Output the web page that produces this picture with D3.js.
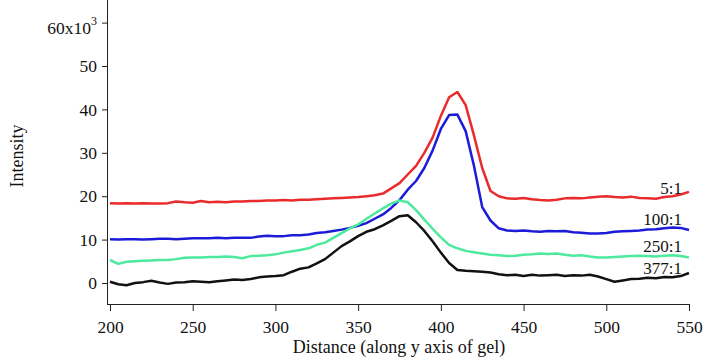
<!DOCTYPE html>
<html>
<head>
<meta charset="utf-8">
<script src="https://cdn.jsdelivr.net/npm/d3@7"></script>
<style>
 body { margin: 0; background: #fff; }
 svg, svg text { font-family: "Liberation Serif", "Times New Roman", serif; }
</style>
</head>
<body>
<div id="d3-container"></div>
<script>
/**
 * CONSTANTS AND GLOBALS
 * */
const width = 704,
  height = 362;

// distance along the gel, every 5 units
const distance = d3.range(200, 551, 5);

// intensity (x10^3) for each ratio
const ratio5 = [
  18.4, 18.3, 18.4, 18.3, 18.4, 18.3, 18.3, 18.4, 18.8, 18.6,
  18.5, 18.9, 18.6, 18.7, 18.6, 18.8, 18.8, 18.9, 18.9, 19.0,
  19.0, 19.1, 19.0, 19.2, 19.2, 19.3, 19.4, 19.5, 19.6, 19.7,
  19.8, 20.0, 20.2, 20.6, 21.8, 23.0, 25.0, 27.0, 30.0, 33.5,
  38.5, 42.8, 44.0, 41.0, 34.0, 26.5, 21.2, 20.0, 19.5, 19.4,
  19.6, 19.3, 19.1, 19.0, 19.2, 19.5, 19.6, 19.5, 19.7, 19.9,
  20.0, 19.8, 19.7, 19.9, 19.6, 19.5, 19.4, 19.8, 20.0, 20.4,
  21.0
];
const ratio100 = [
  10.1, 10.0, 10.1, 10.1, 10.0, 10.1, 10.2, 10.2, 10.1, 10.2,
  10.3, 10.3, 10.3, 10.4, 10.3, 10.4, 10.4, 10.4, 10.7, 10.9,
  10.8, 10.8, 11.0, 11.0, 11.2, 11.5, 11.7, 12.0, 12.3, 12.7,
  13.2, 13.8, 14.8, 15.8, 17.3, 19.1, 21.5, 23.5, 26.5, 30.5,
  35.5, 38.7, 38.8, 35.0, 27.0, 17.5, 14.4, 12.6, 12.1, 12.0,
  12.1, 11.9, 11.8, 12.0, 11.9, 12.0, 11.7, 11.6, 11.4, 11.4,
  11.5, 11.8, 11.9, 12.0, 12.1, 12.3, 12.4, 12.6, 12.8, 12.7,
  12.2
];
const ratio250 = [
  5.3, 4.4, 4.9, 5.0, 5.1, 5.2, 5.3, 5.3, 5.5, 5.8,
  5.9, 5.9, 6.0, 6.0, 6.1, 6.0, 5.7, 6.2, 6.3, 6.4,
  6.6, 7.0, 7.3, 7.6, 8.0, 8.8, 9.3, 10.4, 11.5, 12.6,
  13.5, 14.8, 16.0, 17.2, 18.3, 19.0, 18.6, 16.8, 14.6, 12.5,
  10.5, 8.8, 8.0, 7.4, 7.1, 6.8, 6.5, 6.4, 6.2, 6.3,
  6.5, 6.6, 6.8, 6.7, 6.8, 6.5, 6.3, 6.4, 6.1, 5.9,
  5.9, 6.0, 6.1, 6.2, 6.3, 6.2, 6.1, 6.3, 6.4, 6.2,
  5.9
];
const ratio377 = [
  0.3, -0.3, -0.5, 0.0, 0.2, 0.5, 0.1, -0.2, 0.1, 0.2,
  0.4, 0.3, 0.2, 0.4, 0.6, 0.8, 0.7, 0.9, 1.3, 1.5,
  1.6, 1.8, 2.6, 3.3, 3.6, 4.5, 5.5, 7.0, 8.5, 9.6,
  10.8, 11.8, 12.4, 13.3, 14.3, 15.4, 15.6, 14.0, 12.0, 9.6,
  7.0, 4.6, 3.0, 2.8, 2.7, 2.6, 2.4, 2.0, 1.8, 1.9,
  1.6, 1.9, 1.7, 1.8, 1.9, 1.6, 1.8, 1.7, 1.9, 1.5,
  0.9, 0.3, 0.6, 0.9, 1.0, 1.2, 1.1, 1.4, 1.3, 1.6,
  2.3
];

const seriesNames = ["5:1", "100:1", "250:1", "377:1"];
const seriesColors = ["#ea2b2b", "#1c1cd8", "#4de99c", "#111111"];
const xTicks = [200, 250, 300, 350, 400, 450, 500, 550];
const yTicks = [0, 10, 20, 30, 40, 50, 60];

const series = [ratio5, ratio100, ratio250, ratio377].map((vals, i) => ({
  name: seriesNames[i],
  color: seriesColors[i],
  values: vals.map((v, j) => ({ x: distance[j], y: v }))
}));

/**
 * SCALES
 * */
const xScale = d3.scaleLinear().domain([200, 550]).range([110, 689]);
const yScale = d3.scaleLinear().domain([0, 60]).range([283, 22.6]);

const svg = d3.select("#d3-container")
  .append("svg")
  .attr("width", width)
  .attr("height", height);

// x axis
const xAxis = svg.append("g")
  .attr("transform", "translate(0,304)")
  .call(d3.axisBottom(xScale).tickValues(xTicks).tickSize(7).tickPadding(10).tickSizeOuter(0))
  .attr("font-family", "Liberation Serif")
  .attr("font-size", 17.5);
xAxis.select(".domain").attr("d", "M107,0.5H689");
xAxis.selectAll("text").attr("fill", "#111");

// y axis
const yAxis = svg.append("g")
  .attr("transform", "translate(107,0)")
  .call(d3.axisLeft(yScale).tickValues(yTicks).tickSize(5).tickPadding(5).tickSizeOuter(0))
  .attr("font-family", "Liberation Serif")
  .attr("font-size", 17.5);
yAxis.select(".domain").attr("d", "M0.5,0V304.5");
yAxis.selectAll("text").attr("fill", "#111");

// top tick gets the x10^3 multiplier, a bit lower than the tick like the original
yAxis.selectAll(".tick")
  .filter(d => d === 60)
  .select("text")
  .text(null)
  .attr("x", -10)
  .attr("dy", null)
  .call(t => {
    t.append("tspan").attr("y", 10.4).text("60x10");
    t.append("tspan").attr("font-size", 12).attr("dy", -9).text("3");
  });

svg.selectAll(".domain, .tick line").attr("stroke", "#222");

// axis titles
svg.append("text")
  .attr("x", 399)
  .attr("y", 353)
  .attr("text-anchor", "middle")
  .attr("font-size", 18)
  .attr("fill", "#111")
  .text("Distance (along y axis of gel)");

svg.append("text")
  .attr("transform", "translate(23,156) rotate(-90)")
  .attr("text-anchor", "middle")
  .attr("font-size", 18)
  .attr("fill", "#111")
  .text("Intensity");

// lines
const line = d3.line()
  .x(d => xScale(d.x))
  .y(d => yScale(d.y));

svg.selectAll("path.series")
  .data(series)
  .join("path")
  .attr("class", "series")
  .attr("fill", "none")
  .attr("stroke", d => d.color)
  .attr("stroke-width", 2.5)
  .attr("stroke-linejoin", "round")
  .attr("d", d => line(d.values));

// ratio labels sit just above each line near the right end
svg.selectAll("text.label")
  .data(series)
  .join("text")
  .attr("class", "label")
  .attr("x", 682)
  .attr("y", d => yScale(d.values[66].y) - 4.5)
  .attr("text-anchor", "end")
  .attr("font-size", 17)
  .attr("fill", "#111")
  .text(d => d.name);
</script>
</body>
</html>
